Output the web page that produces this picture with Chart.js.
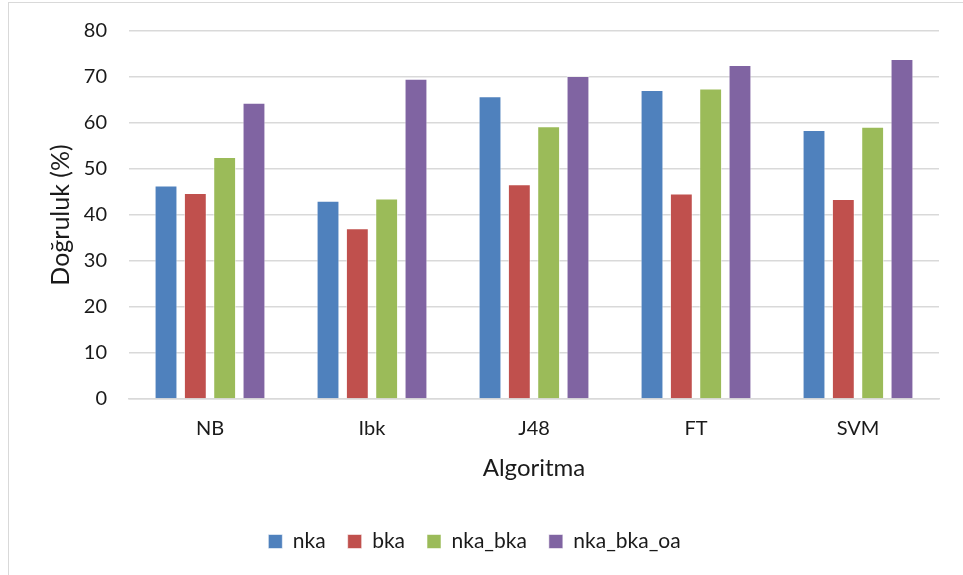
<!DOCTYPE html>
<html>
<head>
<meta charset="utf-8">
<script src="https://cdn.jsdelivr.net/npm/chart.js@4"></script>
<style>
  html, body { margin: 0; padding: 0; background: #ffffff; }
  #wrap { position: relative; width: 963px; height: 575px; }
  canvas { display: block; }
</style>
</head>
<body>
<div id="wrap"><canvas id="chart" width="963" height="575"></canvas></div>
<script>
// Algorithms compared
const algorithms = ['NB', 'Ibk', 'J48', 'FT', 'SVM'];

// Accuracy (%) per feature set
const nka        = [46.4, 43.1, 65.8, 67.2, 58.5];
const bka        = [44.8, 37.1, 46.7, 44.7, 43.5];
const nkaBka     = [52.6, 43.6, 59.3, 67.5, 59.2];
const nkaBkaOa   = [64.4, 69.6, 70.2, 72.6, 73.9];

// Y-axis range
const yMin = 0;
const yMax = 80;
const yStep = 10;

const FONT = 'Lato, "Open Sans", "Liberation Sans", sans-serif';
const TEXT = '#1a1a1a';

// Light frame around the whole chart
const framePlugin = {
  id: 'frame',
  beforeDraw(chart) {
    const ctx = chart.ctx;
    ctx.save();
    ctx.fillStyle = '#ffffff';
    ctx.fillRect(0, 0, chart.width, chart.height);
    ctx.strokeStyle = '#d9d9d9';
    ctx.lineWidth = 1;
    ctx.strokeRect(8.5, 2.5, chart.width + 20, chart.height + 20);
    ctx.restore();
  }
};

function series(label, data, color) {
  return {
    label,
    data,
    backgroundColor: color,
    borderColor: 'rgba(255,255,255,0.55)',
    borderWidth: 1,
    categoryPercentage: 0.724,
    barPercentage: 0.78
  };
}

new Chart(document.getElementById('chart'), {
  type: 'bar',
  data: {
    labels: algorithms,
    datasets: [
      series('nka', nka, '#4F81BD'),
      series('bka', bka, '#C0504D'),
      series('nka_bka', nkaBka, '#9BBB59'),
      series('nka_bka_oa', nkaBkaOa, '#8064A2')
    ]
  },
  options: {
    responsive: false,
    animation: false,
    layout: { padding: { left: 10, right: 24, top: 31, bottom: 13 } },
    plugins: {
      tooltip: { enabled: false },
      legend: {
        position: 'bottom',
        labels: {
          boxWidth: 14,
          boxHeight: 14,
          padding: 22,
          color: TEXT,
          font: { family: FONT, size: 21 }
        }
      }
    },
    scales: {
      x: {
        grid: { display: false, drawTicks: false },
        border: { display: true, color: '#d9d9d9', width: 1.5 },
        ticks: { color: TEXT, padding: 18, font: { family: FONT, size: 20 } },
        title: {
          display: true,
          text: 'Algoritma',
          color: TEXT,
          padding: { top: 0, bottom: 26 },
          font: { family: FONT, size: 24 }
        },
        afterFit(scale) { scale.height = 110; }
      },
      y: {
        min: yMin,
        max: yMax,
        grid: { color: '#d9d9d9', lineWidth: 1.5, drawTicks: false },
        border: { display: false },
        ticks: {
          stepSize: yStep,
          color: TEXT,
          padding: 22,
          font: { family: FONT, size: 20 }
        },
        title: {
          display: true,
          text: 'Doğruluk (%)',
          color: TEXT,
          padding: { top: 36, bottom: 0 },
          font: { family: FONT, size: 25 }
        },
        afterFit(scale) {
          scale.width = 119;
          scale.paddingTop = 0;
          scale.paddingBottom = 0;
        }
      }
    }
  },
  plugins: [framePlugin]
});
</script>
</body>
</html>
